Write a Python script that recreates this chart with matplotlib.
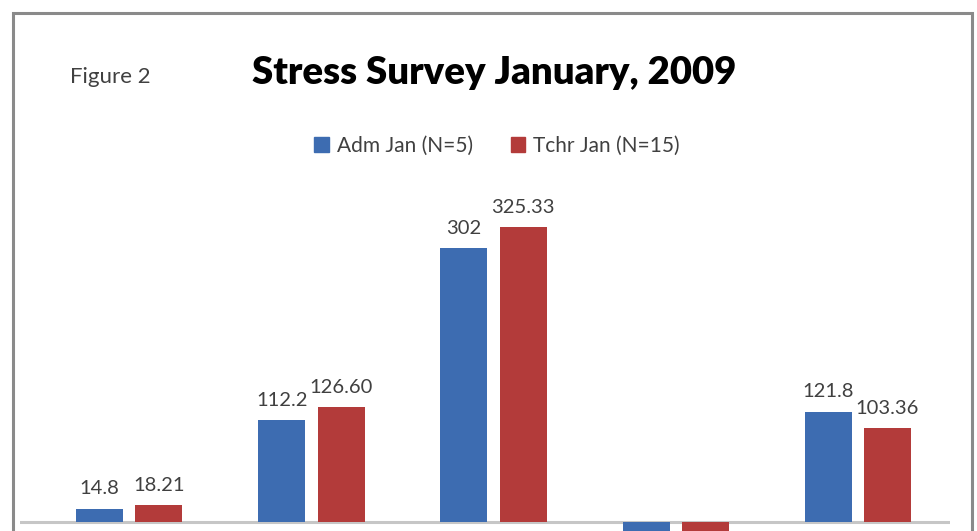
"""Stress survey bar chart, January 2009."""

import matplotlib.pyplot as plt
from matplotlib.patches import Rectangle

plt.rcParams["font.family"] = ["Lato", "DejaVu Sans"]

# data (group 4 runs below zero; its labels fall outside the cropped picture)
groups = ["1", "2", "3", "4", "5"]
adm_jan = [14.8, 112.2, 302, -36.2, 121.8]
tchr_jan = [18.21, 126.60, 325.33, -31.47, 103.36]
adm_labels = ["14.8", "112.2", "302", "", "121.8"]
tchr_labels = ["18.21", "126.60", "325.33", "", "103.36"]
series_names = ["Adm Jan (N=5)", "Tchr Jan (N=15)"]

BLUE = "#3d6cb1"
RED = "#b33b3a"
W, H = 977, 531

fig = plt.figure(figsize=(W / 100, H / 100), dpi=100)

# chart frame (bottom edge is cut off by the picture)
fig.patches.append(Rectangle((13 / W, -0.2), 959 / W, 1.2 - 13 / H,
                             transform=fig.transFigure, fill=False,
                             edgecolor="#8a8a8a", linewidth=2.2))

# axes placed so the zero line sits at y=522 px; lower part runs off the figure
top_px, bot_px = 200, 600
ax = fig.add_axes([20 / W, (H - bot_px) / H, 930 / W, (bot_px - top_px) / H])
px_per_unit = 0.907
ax.set_ylim(-(bot_px - 522) / px_per_unit, (522 - top_px) / px_per_unit)
ax.set_xlim(-0.6, 4.506)
ax.axis("off")

x = list(range(len(groups)))
off = 0.163
bw = 0.258
ax.bar([i - off for i in x], adm_jan, bw, color=BLUE, zorder=2)
ax.bar([i + off for i in x], tchr_jan, bw, color=RED, zorder=2)
ax.axhline(0, color="#c6c6c6", linewidth=2.2, zorder=1)

for i in x:
    for dx, val, lab in ((-off, adm_jan[i], adm_labels[i]), (off, tchr_jan[i], tchr_labels[i])):
        if lab:
            ax.annotate(lab, (i + dx, val), xytext=(0, 8), textcoords="offset points",
                        ha="center", va="bottom", fontsize=14.5, color="#404040")

# titles
fig.text(494 / W, 1 - 73 / H, "Stress Survey January, 2009", ha="center", va="center",
         fontsize=27.5, fontweight="heavy", color="black")
fig.text(70 / W, 1 - 77 / H, "Figure 2", ha="left", va="center",
         fontsize=16, color="#404040")

# legend
leg = fig.legend(handles=[Rectangle((0, 0), 1, 1, color=BLUE), Rectangle((0, 0), 1, 1, color=RED)],
                 labels=series_names, loc="center", bbox_to_anchor=(497 / W, 1 - 146 / H),
                 ncol=2, frameon=False, fontsize=15, handlelength=0.7, handleheight=0.7,
                 handletextpad=0.4, columnspacing=1.8, labelcolor="#404040")

fig.savefig("out.png", dpi=100)
